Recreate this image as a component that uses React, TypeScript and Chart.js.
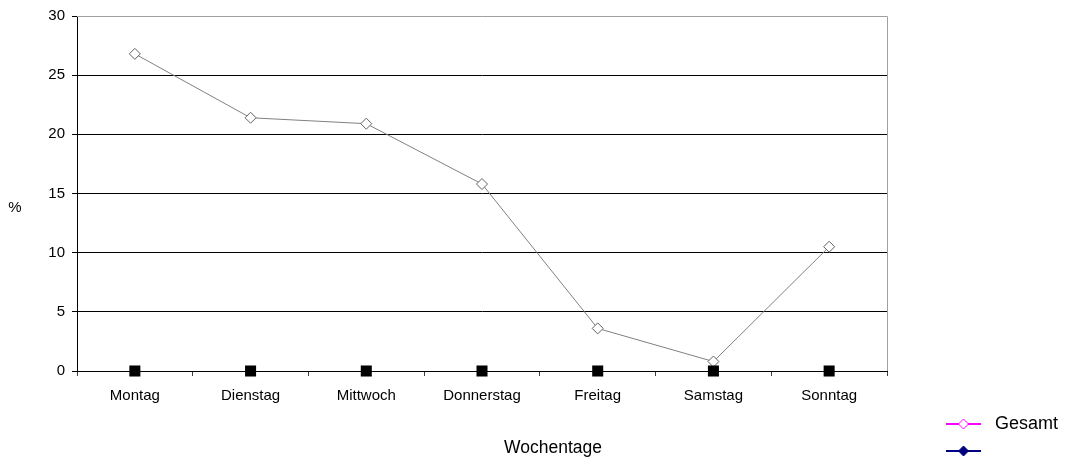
import React, { useEffect, useRef } from "react";
import { Chart, registerables } from "chart.js";

Chart.register(...registerables);

const categories = ["Montag", "Dienstag", "Mittwoch", "Donnerstag", "Freitag", "Samstag", "Sonntag"];
const gesamtValues = [26.8, 21.4, 20.9, 15.8, 3.6, 0.8, 10.5];
const zeroValues = [0, 0, 0, 0, 0, 0, 0];
const yTicks = [0, 5, 10, 15, 20, 25, 30];
const legendLabels = ["Gesamt", ""];
const xTitle = "Wochentage";
const yTitle = "%";

const FONT = "'Liberation Sans', Arial, sans-serif";

const overlayPlugin = {
  id: "overlay",
  afterDraw(chart: any) {
    const ctx = chart.ctx;
    const a = chart.chartArea;
    ctx.save();
    // gray border top/right
    ctx.strokeStyle = "#a0a0a0";
    ctx.lineWidth = 1;
    ctx.beginPath();
    ctx.moveTo(a.left, a.top + 0.5);
    ctx.lineTo(a.right + 0.5, a.top + 0.5);
    ctx.lineTo(a.right + 0.5, a.bottom);
    ctx.stroke();
    // titles
    ctx.fillStyle = "#000";
    ctx.font = `17.5px ${FONT}`;
    ctx.textAlign = "center";
    ctx.textBaseline = "middle";
    ctx.fillText(xTitle, 553, 448);
    ctx.font = `15px ${FONT}`;
    ctx.fillText(yTitle, 15, 208);
    // legend
    const items = [
      { y: 424, line: "#ff00ff", fill: "#ffffff", stroke: "#ff00ff", label: legendLabels[0] },
      { y: 451, line: "#000080", fill: "#000080", stroke: "#000080", label: legendLabels[1] },
    ];
    items.forEach((it) => {
      ctx.strokeStyle = it.line;
      ctx.lineWidth = 2;
      ctx.beginPath();
      ctx.moveTo(946, it.y);
      ctx.lineTo(981, it.y);
      ctx.stroke();
      ctx.beginPath();
      ctx.moveTo(963.5, it.y - 5);
      ctx.lineTo(968.5, it.y);
      ctx.lineTo(963.5, it.y + 5);
      ctx.lineTo(958.5, it.y);
      ctx.closePath();
      ctx.fillStyle = it.fill;
      ctx.fill();
      ctx.lineWidth = 1;
      ctx.strokeStyle = it.stroke;
      ctx.stroke();
      if (it.label) {
        ctx.fillStyle = "#000";
        ctx.font = `18px ${FONT}`;
        ctx.textAlign = "left";
        ctx.fillText(it.label, 995, it.y);
      }
    });
    ctx.restore();
  },
};

export default function App() {
  const ref = useRef<HTMLCanvasElement>(null);
  useEffect(() => {
    document.body.style.margin = "0";
    const chart = new Chart(ref.current!, {
      type: "line",
      data: {
        labels: categories,
        datasets: [
          {
            label: "zero",
            data: zeroValues,
            showLine: false,
            pointStyle: "rect",
            pointRadius: 7.8,
            pointBackgroundColor: "#000",
            pointBorderColor: "#000",
            pointBorderWidth: 0,
            borderColor: "#000",
            order: 0,
            clip: false as any,
          },
          {
            label: "Gesamt",
            data: gesamtValues,
            borderColor: "#808080",
            borderWidth: 1,
            pointStyle: "rectRot",
            pointRadius: 5.5,
            pointBackgroundColor: "#fff",
            pointBorderColor: "#606060",
            pointBorderWidth: 1,
            tension: 0,
            order: 1,
            clip: false as any,
          },
        ],
      },
      options: {
        animation: false,
        responsive: false,
        maintainAspectRatio: false,
        layout: { padding: { top: 16, right: 179, left: 0, bottom: 0 } },
        plugins: { legend: { display: false }, tooltip: { enabled: false } },
        scales: {
          x: {
            offset: true,
            grid: {
              offset: true,
              drawOnChartArea: false,
              drawTicks: true,
              tickLength: 5,
              color: "#404040",
            },
            border: { color: "#000", width: 1 },
            ticks: { color: "#000", font: { family: FONT, size: 15 }, padding: 11, maxRotation: 0 },
            afterFit: (s: any) => { s.height = 91; },
          },
          y: {
            min: 0,
            max: 30,
            afterBuildTicks: (s: any) => { s.ticks = yTicks.map((v) => ({ value: v })); },
            grid: {
              color: (c: any) => (c.tick && c.tick.value === 30 ? "rgba(0,0,0,0)" : "#000"),
              tickColor: "#000",
              tickLength: 5,
              drawTicks: true,
            },
            border: { color: "#000", width: 1 },
            ticks: { color: "#000", font: { family: FONT, size: 15 }, padding: 7 },
            afterFit: (s: any) => { s.width = 77; },
          },
        },
      },
      plugins: [overlayPlugin],
    });
    return () => chart.destroy();
  }, []);
  return (
    <div style={{ position: "absolute", left: 0, top: 0, width: 1066, height: 462 }}>
      <canvas ref={ref} width={1066} height={462} style={{ width: 1066, height: 462 }} />
    </div>
  );
}
